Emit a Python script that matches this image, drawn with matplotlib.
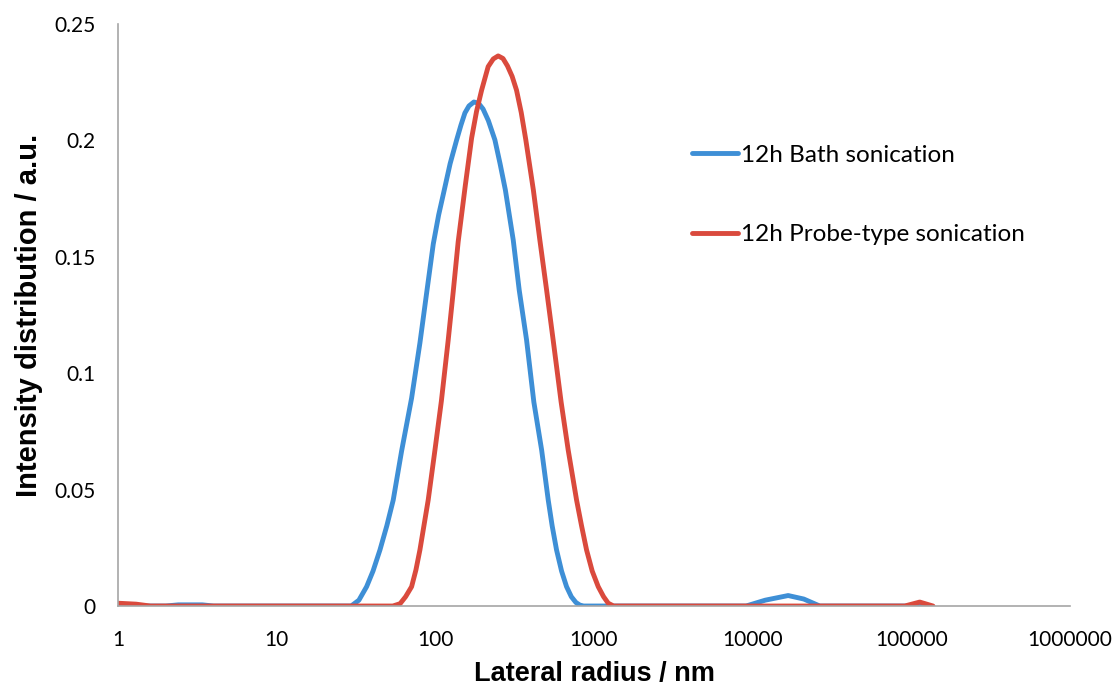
import matplotlib
matplotlib.use("Agg")
import matplotlib.pyplot as plt
from matplotlib.ticker import FixedLocator, FixedFormatter, NullLocator

# values (radius in nm, intensity in a.u.)
bath_radius = [1, 2.0, 2.4, 3.4, 4.0, 29.5, 33, 36.9, 40.5, 44.8, 49.5, 54.3, 61.3, 70.9,
               80.0, 88.2, 97.1, 105, 113.3, 124, 136.3, 145, 153.7, 163, 175.1, 187,
               200.0, 216, 237.5, 256, 276.5, 309.9, 338, 376, 418, 468, 515, 545, 581,
               625, 672, 720, 770, 815, 860, 9100, 12000, 16750, 21000, 26500, 130000]
bath_intensity = [0, 0, 0.0005, 0.0005, 0, 0, 0.0025, 0.0083, 0.0150, 0.0241, 0.0345,
                  0.0455, 0.0665, 0.0893, 0.1130, 0.1345, 0.1555, 0.1680, 0.1780, 0.1900,
                  0.2002, 0.2065, 0.2118, 0.2148, 0.2165, 0.2160, 0.2135, 0.2085, 0.2002,
                  0.1900, 0.1787, 0.1572, 0.1357, 0.1143, 0.0876, 0.0670, 0.0455, 0.0345,
                  0.0241, 0.0150, 0.0083, 0.0040, 0.0015, 0.0004, 0, 0, 0.0025, 0.0045,
                  0.0030, 0, 0]

probe_radius = [1, 1.3, 1.6, 54, 60, 65, 70.9, 75.5, 80.0, 90.2, 99.5, 109.2, 120.5, 129.7,
                139.4, 154.8, 169.4, 182, 195.9, 215.4, 232, 249, 267, 285, 305, 325, 348,
                372, 415, 456, 503, 553, 621, 688, 777, 835, 898, 975, 1064, 1150, 1230,
                1330, 91000, 113000, 137000]
probe_intensity = [0.0012, 0.0008, 0, 0, 0.0010, 0.0040, 0.0083, 0.0155, 0.0241, 0.0455,
                   0.0670, 0.0880, 0.1140, 0.1350, 0.1565, 0.1810, 0.2010, 0.2125, 0.2216,
                   0.2317, 0.2350, 0.2363, 0.2352, 0.2320, 0.2275, 0.2216, 0.2120, 0.2002,
                   0.1787, 0.1572, 0.1357, 0.1143, 0.0876, 0.0670, 0.0455, 0.0345, 0.0241,
                   0.0150, 0.0083, 0.0040, 0.0012, 0, 0, 0.0017, 0]

x_ticks = [1, 10, 100, 1000, 10000, 100000, 1000000]
x_tick_labels = ["1", "10", "100", "1000", "10000", "100000", "1000000"]
y_ticks = [0, 0.05, 0.1, 0.15, 0.2, 0.25]
y_tick_labels = ["0", "0.05", "0.1", "0.15", "0.2", "0.25"]

fig = plt.figure(figsize=(11.15, 6.86), dpi=100)
ax = fig.add_axes([0.1058, 0.1166, 0.8538, 0.8484])

ax.plot(bath_radius, bath_intensity, color="#3E8FD6", lw=3.5,
        label="12h Bath sonication", solid_capstyle="round", solid_joinstyle="round")
ax.plot(probe_radius, probe_intensity, color="#DA4A3D", lw=3.5,
        label="12h Probe-type sonication", solid_capstyle="round", solid_joinstyle="round")

ax.set_xscale("log")
ax.set_xlim(1, 1e6)
ax.set_ylim(0, 0.25)
ax.xaxis.set_major_locator(FixedLocator(x_ticks))
ax.xaxis.set_major_formatter(FixedFormatter(x_tick_labels))
ax.xaxis.set_minor_locator(NullLocator())
ax.yaxis.set_major_locator(FixedLocator(y_ticks))
ax.yaxis.set_major_formatter(FixedFormatter(y_tick_labels))

for side in ["top", "right"]:
    ax.spines[side].set_visible(False)
for side in ["left", "bottom"]:
    ax.spines[side].set_color("#A6A6A6")
    ax.spines[side].set_linewidth(1.2)

ax.tick_params(axis="x", length=0, pad=17, labelsize=15)
ax.tick_params(axis="y", length=0, pad=16, labelsize=15)
for lab in ax.get_xticklabels() + ax.get_yticklabels():
    lab.set_family("Lato")

ax.set_xlabel("Lateral radius / nm", fontsize=19.5, fontweight="bold",
              family="Liberation Sans", labelpad=8)
ax.set_ylabel("Intensity distribution / a.u.", fontsize=21, fontweight="bold",
              family="Liberation Sans", labelpad=8)

ax.legend(loc="upper left", bbox_to_anchor=(0.58, 0.83), frameon=False,
          prop={"family": "Lato", "size": 17.5}, handlelength=1.9,
          handletextpad=0.1, labelspacing=2.4)

fig.savefig("out.png", dpi=100, facecolor="white")
